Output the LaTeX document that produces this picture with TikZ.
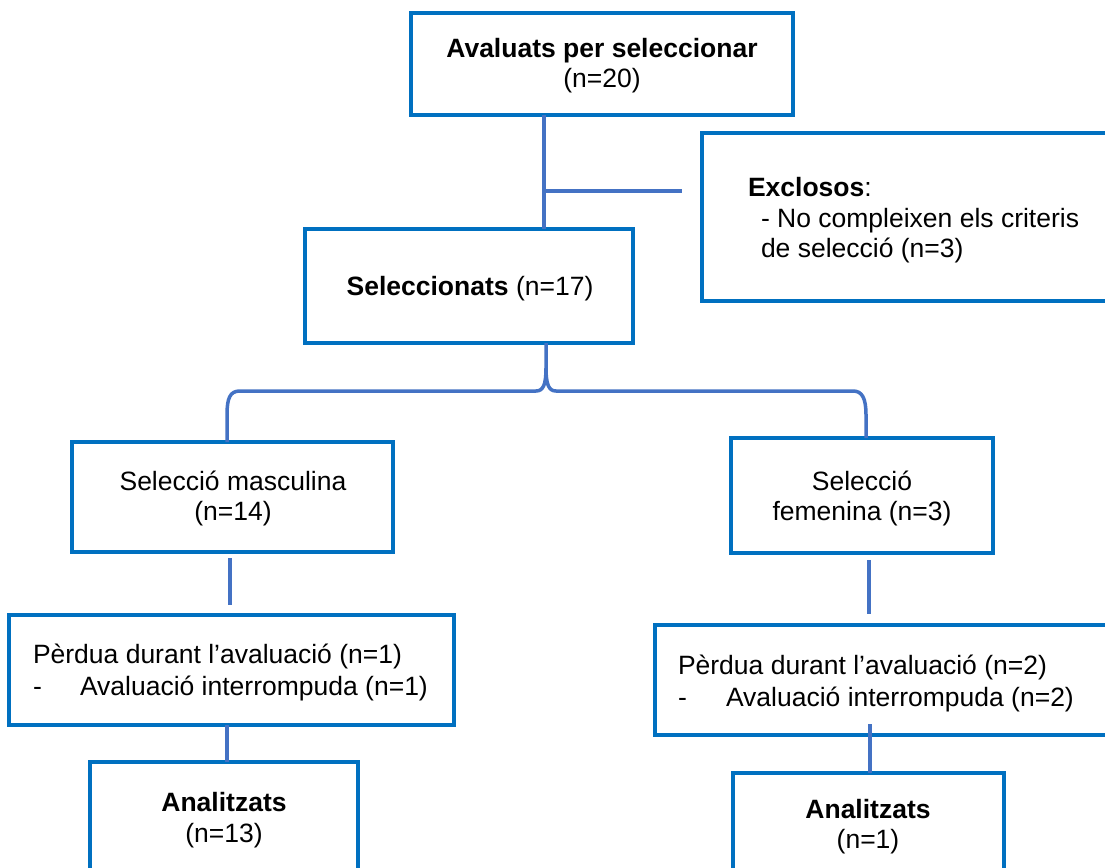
\documentclass[tikz,border=0pt]{standalone}
\usepackage{fontspec}
\setmainfont{Liberation Sans}
\definecolor{boxblue}{RGB}{0,112,192}
\definecolor{linkblue}{RGB}{68,114,196}
\begin{document}
\begin{tikzpicture}[x=1pt,y=-1pt,
  box/.style={draw=boxblue,line width=4pt,inner sep=0pt,outer sep=0pt,fill=none},
  link/.style={draw=linkblue,line width=3.5pt},
  txt/.style={anchor=base,inner sep=0pt,outer sep=0pt,font=\fontsize{26.5pt}{30.5pt}\selectfont},
  txtw/.style={txt,anchor=base west}
]
\useasboundingbox (0,0) rectangle (1105,867);
\clip (0,0) rectangle (1105,867);
\fill[white] (0,0) rectangle (1105,867);

% boxes
\node[box,minimum width=382pt,minimum height=102pt] (top) at (602,64) {};
\node[box,minimum width=423pt,minimum height=168pt] (excl) at (913.5,217) {};
\node[box,minimum width=328pt,minimum height=114pt] (sel) at (469,286) {};
\node[box,minimum width=321pt,minimum height=110pt] (masc) at (232.5,497) {};
\node[box,minimum width=262pt,minimum height=115pt] (fem) at (862,495.5) {};
\node[box,minimum width=445pt,minimum height=110pt] (perdL) at (231.5,670) {};
\node[box,minimum width=470pt,minimum height=110pt] (perdR) at (890,680) {};
\node[box,minimum width=268pt,minimum height=138pt] (analL) at (224,831) {};
\node[box,minimum width=271pt,minimum height=127pt] (analR) at (868.5,836.5) {};

% texts
\node[txt] (topA) at (602,57) {\textbf{Avaluats per seleccionar}};
\node[txt] (topB) at (602,87) {(n=20)};
\node[txtw] (exA) at (748,196) {\textbf{Exclosos}:};
\node[txtw] (exB) at (761,227) {- No compleixen els criteris};
\node[txtw] (exC) at (761,257) {de selecció (n=3)};
\node[txt] (selA) at (470,295) {\textbf{Seleccionats} (n=17)};
\node[txt] (mascA) at (233,490) {Selecció masculina};
\node[txt] (mascB) at (233,520) {(n=14)};
\node[txt] (femA) at (862,490) {Selecció};
\node[txt] (femB) at (862,520) {femenina (n=3)};
\node[txtw] (plA) at (33,663) {Pèrdua durant l’avaluació (n=1)};
\node[txtw] (plB) at (33,695) {-};
\node[txtw] (plC) at (80,695) {Avaluació interrompuda (n=1)};
\node[txtw] (prA) at (678,674) {Pèrdua durant l’avaluació (n=2)};
\node[txtw] (prB) at (678,706) {-};
\node[txtw] (prC) at (726,706) {Avaluació interrompuda (n=2)};
\node[txt] (alA) at (224,811) {\textbf{Analitzats}};
\node[txt] (alB) at (224,842) {(n=13)};
\node[txt] (arA) at (868,818) {\textbf{Analitzats}};
\node[txt] (arB) at (868,848) {(n=1)};

% connectors
\coordinate (j1) at (544,191);
\draw[link] (top.south -| j1) -- (sel.north -| j1);
\draw[link,shorten >=20pt] (j1) -- (excl.west |- j1);

\coordinate (bl) at (227,391);
\coordinate (bm) at (546,391);
\coordinate (br) at (866,391);
\draw[link,line join=round]
  (masc.north -| bl) -- (227,415) .. controls (227,398) and (230,391) .. (240,391)
  -- (536,391) .. controls (543,391) and (546,385) .. (546,368)
  -- (sel.south -| bm);
\draw[link,line join=round]
  (546,368) .. controls (546,385) and (549,391) .. (556,391)
  -- (853,391) .. controls (862,391) and (866,398) .. (866,415)
  -- (fem.north -| br);

\coordinate (cl1) at (230,0);
\coordinate (cl2) at (227,0);
\coordinate (cr1) at (869,0);
\coordinate (cr2) at (870,0);
\draw[link,shorten <=6pt,shorten >=10pt] (masc.south -| cl1) -- (perdL.north -| cl1);
\draw[link] (perdL.south -| cl2) -- (analL.north -| cl2);
\draw[link,shorten <=7pt,shorten >=11pt] (fem.south -| cr1) -- (perdR.north -| cr1);
\draw[link,shorten <=-11pt] (perdR.south -| cr2) -- (analR.north -| cr2);
\end{tikzpicture}
\end{document}
